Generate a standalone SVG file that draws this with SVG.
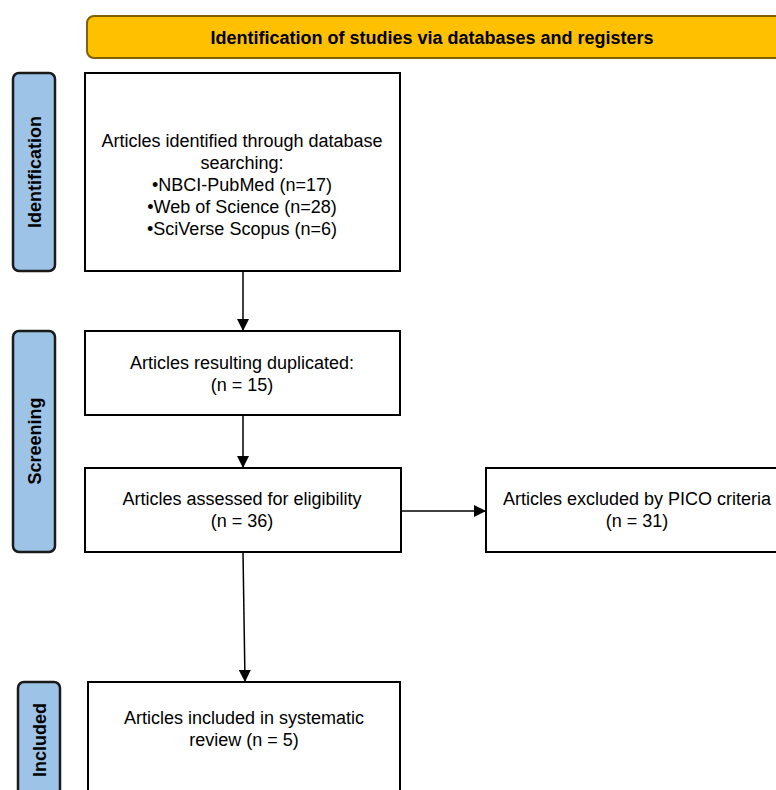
<svg xmlns="http://www.w3.org/2000/svg" width="776" height="790" viewBox="0 0 776 790">
<defs>
<marker id="ah" viewBox="0 0 10 10" refX="10" refY="5" markerWidth="12" markerHeight="12" markerUnits="userSpaceOnUse" orient="auto"><path d="M0,0 L10,5 L0,10 z" fill="#000"/></marker>
<style>
.box{fill:#fff;stroke:#000;stroke-width:2}
.side{fill:#9DC3E6;stroke:#1a1a1a;stroke-width:2.5}
.hdr{fill:#FFC000;stroke:#7F6000;stroke-width:2}
.t{font-family:"Liberation Sans",Arial,sans-serif;font-size:18px;fill:#000;text-anchor:middle}
.b{font-family:"Liberation Sans",Arial,sans-serif;font-size:18px;font-weight:bold;fill:#000;text-anchor:middle}
.c{stroke:#000;stroke-width:1.5;fill:none}
</style>
</defs>
<rect width="776" height="790" fill="#fff"/>
<g id="header"><rect class="hdr" x="87" y="16" width="700" height="42" rx="7"/><text class="b" x="432" y="44">Identification of studies via databases and registers</text></g>
<g id="side-identification"><rect class="side" x="13" y="73" width="42" height="198" rx="6"/><text class="b" transform="translate(41,172) rotate(-90)">Identification</text></g>
<g id="side-screening"><rect class="side" x="13" y="331" width="42" height="221" rx="6"/><text class="b" transform="translate(41,441) rotate(-90)">Screening</text></g>
<g id="side-included"><rect class="side" x="18" y="682" width="42" height="130" rx="6"/><text class="b" transform="translate(46,740) rotate(-90)">Included</text></g>
<g id="n1"><rect class="box" x="85" y="73" width="315" height="198"/>
<text class="t" x="242" y="147">Articles identified through database</text>
<text class="t" x="242" y="169">searching:</text>
<text class="t" x="242" y="191">•NBCI-PubMed (n=17)</text>
<text class="t" x="242" y="213">•Web of Science (n=28)</text>
<text class="t" x="242" y="235">•SciVerse Scopus (n=6)</text></g>
<g id="n2"><rect class="box" x="85" y="331" width="315" height="84"/>
<text class="t" x="242" y="369">Articles resulting duplicated:</text>
<text class="t" x="242" y="391">(n = 15)</text></g>
<g id="n3"><rect class="box" x="85" y="468" width="316" height="84"/>
<text class="t" x="242" y="505">Articles assessed for eligibility</text>
<text class="t" x="242" y="527">(n = 36)</text></g>
<g id="n4"><rect class="box" x="486" y="468" width="300" height="84"/>
<text class="t" x="637" y="505">Articles excluded by PICO criteria</text>
<text class="t" x="637" y="527">(n = 31)</text></g>
<g id="n5"><rect class="box" x="88" y="682" width="312" height="130"/>
<text class="t" x="244" y="724">Articles included in systematic</text>
<text class="t" x="244" y="746">review (n = 5)</text></g>
<g id="connectors">
<line class="c" x1="243" y1="271" x2="243" y2="331" marker-end="url(#ah)"/>
<line class="c" x1="243" y1="415" x2="243" y2="468" marker-end="url(#ah)"/>
<line class="c" x1="401" y1="511" x2="486" y2="511" marker-end="url(#ah)"/>
<line class="c" x1="243" y1="552" x2="245" y2="682" marker-end="url(#ah)"/>
</g>
</svg>
